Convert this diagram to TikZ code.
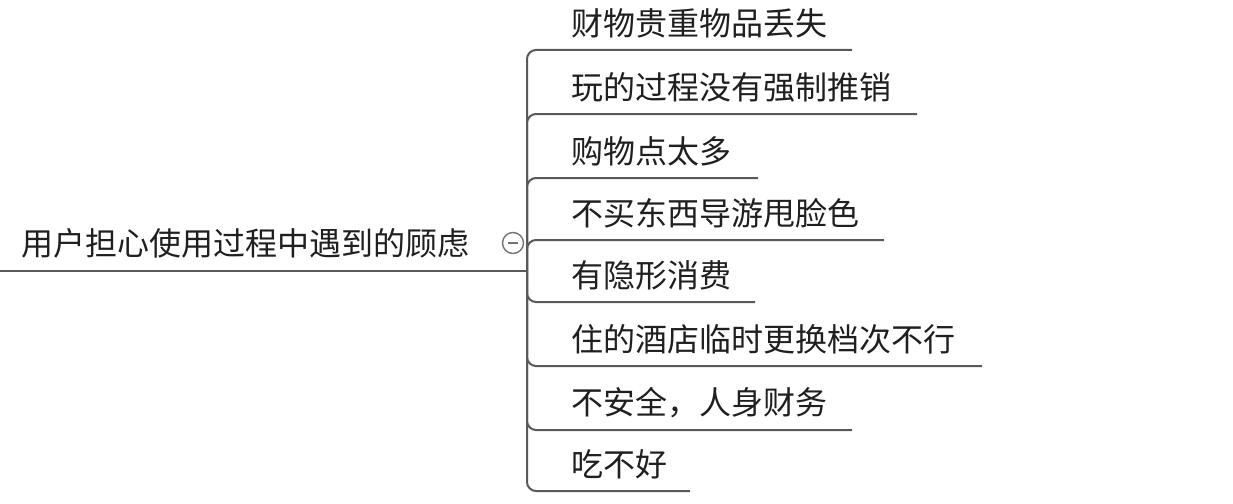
\documentclass[tikz,border=0pt]{standalone}
\usepackage{fontspec}
\newfontfamily\cjk{Noto Sans CJK SC}
\begin{document}
\begin{tikzpicture}[x=1pt,y=-1pt,
  lbl/.style={anchor=west,inner sep=0pt,font=\cjk\fontsize{32}{36}\selectfont,text=black!88},
  conn/.style={draw=black!65,line width=2pt,rounded corners=9pt}]
\useasboundingbox (0,0) rectangle (1233,503);
\coordinate (hub) at (527,271);
\coordinate (rootstart) at (0,271);
\node[lbl] (root) at (21,243) {用户担心使用过程中遇到的顾虑};
\draw[conn] (rootstart) -- (hub);
\node[circle,draw=black!55,line width=1.4pt,minimum size=21pt,inner sep=0pt] (tog) at (513,243) {};
\draw[black!55,line width=1.4pt] ([xshift=-5pt]tog.center) -- ([xshift=5pt]tog.center);
\foreach \i/\y/\e/\t in {1/50/852/财物贵重物品丢失,2/114/917/玩的过程没有强制推销,3/178/758/购物点太多,4/240/884/不买东西导游甩脸色,5/302/755/有隐形消费,6/366/982/住的酒店临时更换档次不行,7/430/852/{不安全，人身财务},8/491/690/吃不好}{
  \node[lbl] (c\i) at (571,\y-27) {\t};
  \coordinate (e\i) at (\e,\y);
  \draw[conn] (hub) |- (e\i);
}
\end{tikzpicture}
\end{document}
